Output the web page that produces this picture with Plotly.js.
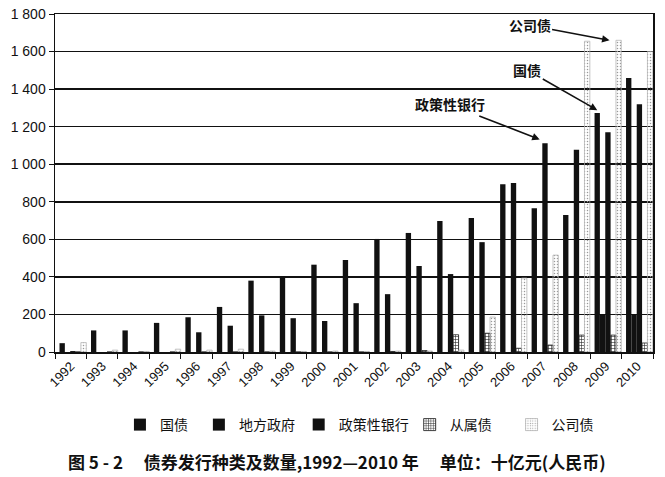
<!DOCTYPE html>
<html>
<head>
<meta charset="utf-8">
<script src="https://cdn.plot.ly/plotly-3.0.1.min.js"></script>
<style>
  body { margin: 0; background: #fff; }
  #chart { width: 665px; height: 477px; }
</style>
</head>
<body>
<div id="chart"></div>
<script>
// 债券发行种类及数量, 1992-2010, 单位：十亿元
const years = ['1992','1993','1994','1995','1996','1997','1998','1999','2000','2001',
               '2002','2003','2004','2005','2006','2007','2008','2009','2010'];
const guozhai   = [47, 115, 115, 155, 185, 240, 380, 400, 465, 490, 602, 634, 697, 713, 894, 766, 729, 1273, 1459];
const difang    = [0, 0, 0, 0, 0, 0, 0, 0, 0, 0, 0, 0, 0, 0, 0, 0, 0, 200, 200];
const zhengce   = [5, 0, 0, 0, 105, 140, 195, 180, 165, 260, 308, 458, 415, 585, 900, 1112, 1077, 1170, 1320];
const congshu   = [0, 0, 0, 0, 0, 0, 0, 0, 0, 0, 3, 8, 92, 100, 20, 37, 90, 90, 48];
const gongsi    = [50, 10, 3, 15, 10, 15, 5, 3, 5, 3, 5, 5, 10, 186, 394, 516, 1655, 1660, 1600];
const seriesNames = ['国债', '地方政府', '政策性银行', '从属债', '公司债'];

// 每组5根柱子，宽度和偏移按类别单位
const w = 0.17;
const start = -0.357;
const legendIds = ['legend', 'legend2', 'legend3', 'legend4', 'legend5'];

function bar(i, y, marker) {
  return {
    type: 'bar',
    name: seriesNames[i],
    x: years,
    y: y,
    width: w,
    offset: start + i * w,
    marker: marker,
    legend: legendIds[i],
    hoverinfo: 'skip'
  };
}

const solid = { color: '#111', line: { width: 0 } };

const data = [
  bar(0, guozhai, solid),
  bar(1, difang, solid),
  bar(2, zhengce, solid),
  bar(3, congshu, {
    color: '#fff',
    line: { color: '#222', width: 0.8 },
    pattern: { shape: '+', fgcolor: '#222', bgcolor: '#fff', size: 3, solidity: 0.35 }
  }),
  bar(4, gongsi, {
    color: 'rgba(255,255,255,0)',
    line: { color: '#aaa', width: 0.7 },
    pattern: { shape: '.', fgcolor: '#999', bgcolor: 'rgba(255,255,255,0)', size: 3, solidity: 0.2 }
  })
];

// 图例：每个系列一个，单独定位
function legendAt(x) {
  return {
    orientation: 'h',
    x: x, xanchor: 'left',
    y: -0.216, yanchor: 'middle',
    itemwidth: 30,
    font: { family: 'Noto Sans CJK SC, sans-serif', size: 14, color: '#111' },
    bgcolor: 'rgba(0,0,0,0)'
  };
}

const annFont = { family: 'Noto Sans CJK SC, sans-serif', size: 14, color: '#111', weight: 'bold' };

const layout = {
  width: 665,
  height: 477,
  margin: { l: 55, r: 12, t: 14, b: 125 },
  paper_bgcolor: '#fff',
  plot_bgcolor: '#fff',
  separators: '. ',
  barmode: 'group',
  showlegend: true,
  font: { family: 'Liberation Sans, Arial, sans-serif', color: '#111' },
  xaxis: {
    type: 'category',
    tickson: 'boundaries',
    ticks: 'outside',
    ticklen: 5,
    tickcolor: '#111',
    tickangle: -45,
    tickfont: { size: 13, family: 'Liberation Sans, sans-serif' },
    showline: true,
    linecolor: '#111',
    linewidth: 1.5,
    mirror: true,
    showgrid: false,
    fixedrange: true
  },
  yaxis: {
    range: [0, 1800],
    dtick: 200,
    tickformat: ',d',
    ticks: 'outside',
    ticklen: 5,
    tickcolor: '#111',
    tickfont: { size: 14, family: 'Liberation Sans Narrow, Liberation Sans, sans-serif' },
    showgrid: true,
    gridcolor: '#111',
    gridwidth: 1.5,
    zeroline: false,
    showline: true,
    linecolor: '#111',
    linewidth: 1.5,
    mirror: true
  },
  legend: legendAt(0.1086),
  legend2: legendAt(0.2406),
  legend3: legendAt(0.4075),
  legend4: legendAt(0.5931),
  legend5: legendAt(0.7635),
  annotations: [
    {
      x: 17.12, y: gongsi[17], xref: 'x', yref: 'y',
      text: '公司债', font: annFont,
      showarrow: true, arrowhead: 2, arrowsize: 1, arrowwidth: 1.5, arrowcolor: '#111',
      ax: -80, ay: -15
    },
    {
      x: 16.73, y: guozhai[17] + 15, xref: 'x', yref: 'y',
      text: '国债', font: annFont,
      showarrow: true, arrowhead: 2, arrowsize: 1, arrowwidth: 1.5, arrowcolor: '#111',
      ax: -70, ay: -40
    },
    {
      x: 14.9, y: zhengce[15] + 20, xref: 'x', yref: 'y',
      text: '政策性银行', font: annFont,
      showarrow: true, arrowhead: 2, arrowsize: 1, arrowwidth: 1.5, arrowcolor: '#111',
      ax: -90, ay: -35
    },
    {
      x: 0.471, y: -0.3225, xref: 'paper', yref: 'paper',
      xanchor: 'center', yanchor: 'middle',
      text: '图 5 - 2　 债券发行种类及数量,1992—2010 年　 单位：十亿元(人民币)',
      showarrow: false,
      font: { family: 'Noto Sans CJK SC, sans-serif', size: 17, color: '#111', weight: 'bold' }
    }
  ]
};

Plotly.newPlot('chart', data, layout, { displayModeBar: false, staticPlot: true });
</script>
</body>
</html>
